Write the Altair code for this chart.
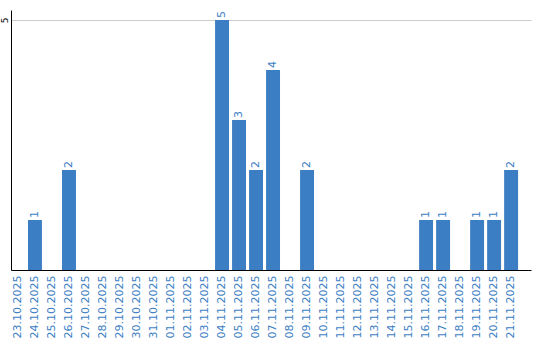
import altair as alt
import pandas as pd

dates = ["23.10.2025", "24.10.2025", "25.10.2025", "26.10.2025", "27.10.2025",
         "28.10.2025", "29.10.2025", "30.10.2025", "31.10.2025", "01.11.2025",
         "02.11.2025", "03.11.2025", "04.11.2025", "05.11.2025", "06.11.2025",
         "07.11.2025", "08.11.2025", "09.11.2025", "10.11.2025", "11.11.2025",
         "12.11.2025", "13.11.2025", "14.11.2025", "15.11.2025", "16.11.2025",
         "17.11.2025", "18.11.2025", "19.11.2025", "20.11.2025", "21.11.2025"]
counts = [0, 1, 0, 2, 0, 0, 0, 0, 0, 0,
          0, 0, 5, 3, 2, 4, 0, 2, 0, 0,
          0, 0, 0, 0, 1, 1, 0, 1, 1, 2]
y_ticks = [5]

BLUE = "#3c7ec3"
df = pd.DataFrame({"date": dates, "count": counts})

x = alt.X("date:N", sort=dates, title=None,
          scale=alt.Scale(paddingInner=0.18, paddingOuter=0.38, align=0),
          axis=alt.Axis(labelAngle=270, labelAlign="right", labelBaseline="middle",
                        labelColor=BLUE, labelFontSize=11, labelFont="DejaVu Sans",
                        labelPadding=5, ticks=False, domainColor="black",
                        labelOverlap=False))
y = alt.Y("count:Q", title=None, scale=alt.Scale(domain=[0, 5.2], nice=False),
          axis=alt.Axis(values=y_ticks, labelAngle=270, labelFontSize=9,
                        labelFont="DejaVu Sans", labelColor="black", labelPadding=2,
                        ticks=False, domainColor="black", gridColor="#cccccc",
                        labelAlign="center", labelBaseline="bottom"))

bars = alt.Chart(df).mark_bar(color=BLUE).encode(x=x, y=y)
text = alt.Chart(df).transform_filter("datum.count > 0").mark_text(
    angle=270, align="left", baseline="middle", dx=2, color=BLUE,
    font="DejaVu Sans", fontSize=11).encode(
    x=alt.X("date:N", sort=dates),
    y="count:Q", text="count:Q")

chart = alt.layer(bars, text).properties(
    width=520, height=260,
    padding={"left": 11, "top": 10, "right": 9, "bottom": 70},
    autosize=alt.AutoSizeParams(type="none"),
).configure_view(stroke=None).configure_axis(domainWidth=1)

chart.save("out.html", embed_options={"renderer": "svg", "actions": False})
